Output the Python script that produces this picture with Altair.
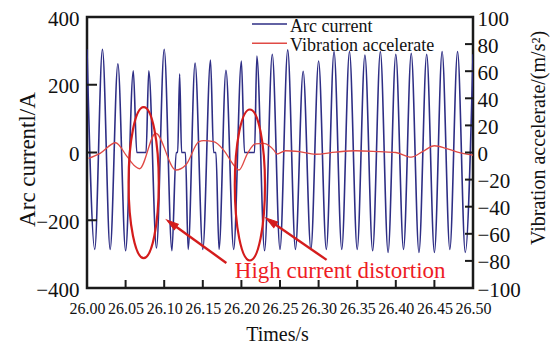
import altair as alt
import pandas as pd

# ---------------- data ----------------
CUR_T = [26.000, 26.010, 26.020, 26.030, 26.040, 26.050, 26.060, 26.0645, 26.0765, 26.080,
         26.090, 26.100, 26.110, 26.1155, 26.1175, 26.120, 26.1225, 26.1275, 26.131, 26.140,
         26.150, 26.160, 26.164, 26.167, 26.171, 26.180, 26.190, 26.200, 26.204, 26.217,
         26.220, 26.230, 26.240, 26.250, 26.260, 26.270, 26.280, 26.290, 26.300, 26.310,
         26.320, 26.330, 26.340, 26.350, 26.360, 26.370, 26.380, 26.390, 26.400, 26.410,
         26.420, 26.430, 26.440, 26.450, 26.460, 26.470, 26.480, 26.490, 26.500]
CUR_V = [305, -286, 305, -286, 262, -290, 241, 0, 0, 241,
         -282, 305, -290, 0, 0, 232, 0, 0, -286, 264,
         -286, 273, 0, 0, -286, 243, -286, 270, 0, 0,
         285, -290, 290, -286, 303, -286, 240, -286, 270, -286,
         298, -286, 298, -286, 288, -290, 298, -295, 290, -286,
         293, -295, 290, -295, 298, -286, 298, -295, 290]

VIB_T = [26.002, 26.017, 26.037, 26.052, 26.062, 26.068, 26.089, 26.115, 26.128, 26.145,
         26.151, 26.164, 26.177, 26.190, 26.197, 26.208, 26.218, 26.229, 26.242, 26.246,
         26.257, 26.275, 26.296, 26.322, 26.348, 26.379, 26.400, 26.420, 26.435, 26.450,
         26.465, 26.480, 26.500]
VIB_V = [-4.3, -0.6, 7.2, -3.1, -10.0, -12.0, 14.2, -12.9, -9.2, 8.0,
         8.7, 8.0, 1.8, -9.2, -12.9, -0.6, 6.3, 6.8, 1.8, -1.1,
         1.3, 0.6, -1.3, 0.3, 1.3, 0.6, 0.0, -3.4, 0.8, 5.0,
         3.1, 0.3, -2.0]

X_TICKS = [26.00, 26.05, 26.10, 26.15, 26.20, 26.25, 26.30, 26.35, 26.40, 26.45, 26.50]
Y_LEFT_TICKS = [-400, -200, 0, 200, 400]
Y_RIGHT_TICKS = [-100, -80, -60, -40, -20, 0, 20, 40, 60, 80, 100]
LEGEND_LABELS = ["Arc current", "Vibration accelerate"]

ELLIPSE_T = [26.0734, 26.211]
ELLIPSE_I = [-89, -96]
ARROW_T0 = [26.1805, 26.3104]
ARROW_I0 = [-326, -317]
ARROW_T1 = [26.111, 26.2397]
ARROW_I1 = [-212, -206]
ARROW_ANG = [306, 305]
NOTE_TEXT = ["High current distortion"]
NOTE_T = [26.328]
NOTE_I = [-370]

# ---------------- styling ----------------
W, H = 386, 271
FONT = "Liberation Serif"
AXFONT = "Liberation Serif, Times New Roman, serif"
BLUE = "#2e2e85"
RED_LINE = "#e04a45"
RED_MARK = "#d41c1c"
RED_TEXT = "#ee1c24"
FRAME = "#1a1a1a"
TXT = "#111111"
ELLIPSE_PATH = ("M 0 -1 C 0.11 -1 0.2 -0.552 0.2 0 C 0.2 0.552 0.11 1 0 1 "
                "C -0.11 1 -0.2 0.552 -0.2 0 C -0.2 -0.552 -0.11 -1 0 -1 Z")
HEAD_PATH = "M 0 -1 L 0.45 0.6 L -0.45 0.6 Z"

xscale = alt.Scale(domain=[26.0, 26.5], nice=False, zero=False)
yL = alt.Scale(domain=[-400, 400], nice=False)
yR = alt.Scale(domain=[-100, 100], nice=False)

common = dict(labelFont=AXFONT, titleFont=AXFONT, labelColor=TXT, titleColor=TXT,
              titleFontWeight="normal", ticks=False, domain=False, grid=False,
              labelOverlap=False)
x_axis = alt.Axis(
    values=X_TICKS, format=".2f", title="Times/s", labelFontSize=16, labelPadding=12,
    labelFlush=False, titleFontSize=20, titleX=190, titleY=52,
    titleAlign="center", titleBaseline="alphabetic", **common)
yl_axis = alt.Axis(
    values=Y_LEFT_TICKS, orient="left", title="Arc currentl/A", labelFontSize=21,
    labelPadding=8, labelOffset=2, titleFontSize=23, titleAngle=-90,
    titleX=-60, titleY=142, titleAlign="center", titleBaseline="middle", **common)
yr_axis = alt.Axis(
    values=Y_RIGHT_TICKS, orient="right", title="Vibration accelerate/(m/s²)",
    labelFontSize=21, labelPadding=4, labelOffset=2, titleFontSize=20,
    titleAngle=-90, titleX=65, titleY=120.5, titleAlign="center", titleBaseline="middle",
    **common)

cur_df = pd.DataFrame({"t": CUR_T, "i": CUR_V})
vib_df = pd.DataFrame({"t": VIB_T, "a": VIB_V})

# ---------------- group 1: arc current (left axis) ----------------
cur = alt.Chart(cur_df).mark_line(color=BLUE, strokeWidth=1.6, interpolate="monotone", clip=True).encode(
    x=alt.X("t:Q", scale=xscale, axis=x_axis, title="Times/s"),
    y=alt.Y("i:Q", scale=yL, axis=yl_axis, title="Arc currentl/A"),
)

lt_df = pd.DataFrame({"i": [v for v in Y_LEFT_TICKS if abs(v) < 400]})
left_ticks = alt.Chart(lt_df).mark_rule(color=FRAME, strokeWidth=2).encode(
    y=alt.Y("i:Q", scale=yL, axis=yl_axis, title="Arc currentl/A"), x=alt.value(0), x2=alt.value(10))

bt_df = pd.DataFrame({"t": X_TICKS[1:-1]})
bottom_ticks = alt.Chart(bt_df).mark_rule(color=FRAME, strokeWidth=2).encode(
    x=alt.X("t:Q", scale=xscale, axis=x_axis, title="Times/s"), y=alt.value(H - 8), y2=alt.value(H))

g1 = alt.layer(cur, left_ticks, bottom_ticks)

# ---------------- group 2: vibration (right axis) ----------------
vib = alt.Chart(vib_df).mark_line(color=RED_LINE, strokeWidth=1.3, interpolate="monotone", clip=True).encode(
    x=alt.X("t:Q", scale=xscale, axis=x_axis, title="Times/s"),
    y=alt.Y("a:Q", scale=yR, axis=yr_axis, title="Vibration accelerate/(m/s²)"),
)
rt_df = pd.DataFrame({"a": [v for v in Y_RIGHT_TICKS if abs(v) < 100]})
right_ticks = alt.Chart(rt_df).mark_rule(color=FRAME, strokeWidth=2).encode(
    y=alt.Y("a:Q", scale=yR, axis=yr_axis, title="Vibration accelerate/(m/s²)"),
    x=alt.value(W - 8), x2=alt.value(W))

g2 = alt.layer(vib, right_ticks)

# ---------------- group 3: annotations & legend ----------------
yA = alt.Scale(domain=[-400, 400], nice=False)
ell_df = pd.DataFrame({"t": ELLIPSE_T, "i": ELLIPSE_I})
ellipses = alt.Chart(ell_df).mark_point(
    shape=ELLIPSE_PATH, size=22800, filled=False, stroke=RED_MARK, strokeWidth=2.2, opacity=1
).encode(x=alt.X("t:Q", scale=xscale, axis=x_axis, title="Times/s"),
         y=alt.Y("i:Q", scale=yA, axis=None))

arr_df = pd.DataFrame({"t0": ARROW_T0, "i0": ARROW_I0, "t1": ARROW_T1, "i1": ARROW_I1, "ang": ARROW_ANG})
arrows = alt.Chart(arr_df).mark_rule(color=RED_MARK, strokeWidth=2.4).encode(
    x=alt.X("t0:Q", scale=xscale, axis=x_axis, title="Times/s"),
    y=alt.Y("i0:Q", scale=yA, axis=None),
    x2="t1:Q", y2="i1:Q")
heads = alt.Chart(arr_df).mark_point(
    shape=HEAD_PATH, size=225, filled=True, fill=RED_MARK, stroke=RED_MARK, strokeWidth=1, opacity=1
).encode(x=alt.X("t1:Q", scale=xscale, axis=x_axis, title="Times/s"),
         y=alt.Y("i1:Q", scale=yA, axis=None),
         angle=alt.Angle("ang:Q", scale=None))

note_df = pd.DataFrame({"t": NOTE_T, "i": NOTE_I, "txt": NOTE_TEXT})
note = alt.Chart(note_df).mark_text(
    font=FONT, fontSize=23, color=RED_TEXT, align="center", baseline="alphabetic"
).encode(x=alt.X("t:Q", scale=xscale, axis=x_axis, title="Times/s"),
         y=alt.Y("i:Q", scale=yA, axis=None), text="txt:N")

legend_layers = []
for k, (lab, col, sw) in enumerate(zip(LEGEND_LABELS, [BLUE, RED_LINE], [1.6, 1.4])):
    ldf = pd.DataFrame({"label": [lab]})
    ly = 7 + 19.3 * k
    legend_layers.append(alt.Chart(ldf).mark_rule(color=col, strokeWidth=sw).encode(
        x=alt.value(165), x2=alt.value(200), y=alt.value(ly)))
    legend_layers.append(alt.Chart(ldf).mark_text(
        font=FONT, fontSize=18, color=TXT, align="left", baseline="alphabetic").encode(
        x=alt.value(203), y=alt.value(ly + 7.5), text="label:N"))

g3 = alt.layer(ellipses, arrows, heads, note, *legend_layers)

chart = alt.layer(g1, g2, g3).resolve_scale(y="independent").properties(
    width=W, height=H,
    autosize=alt.AutoSizeParams(type="none"),
    padding={"left": 79, "top": 9, "right": 77, "bottom": 56},
    background="white",
).configure_view(stroke=FRAME, strokeWidth=2.5).configure_axis(
    labelFont=AXFONT, titleFont=AXFONT, labelColor=TXT, titleColor=TXT,
    titleFontWeight="normal", ticks=False, domain=False, grid=False
).configure_text(font=FONT)

chart.save("out.html", embed_options={"renderer": "svg", "actions": False})
